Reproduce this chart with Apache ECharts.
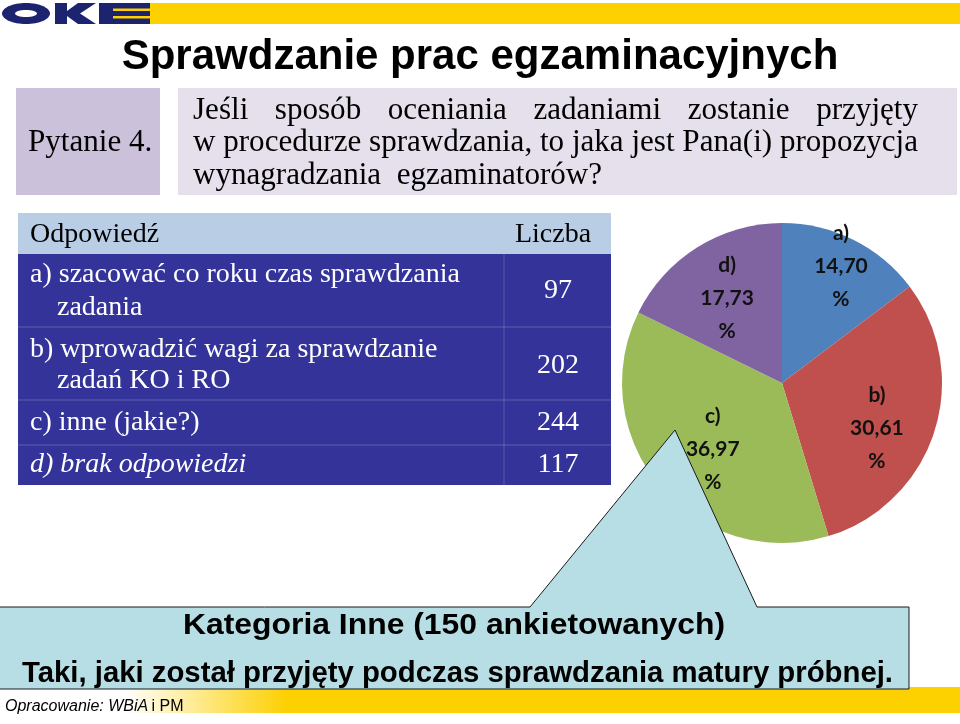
<!DOCTYPE html>
<html><head><meta charset="utf-8">
<script src="https://cdn.jsdelivr.net/npm/echarts@6/dist/echarts.min.js"></script>
<style>html,body{margin:0;padding:0;background:#fff}#c{width:960px;height:724px}</style>
</head><body><div id="c"></div>
<script>
// ---- data ----
const categories = ['a)', 'b)', 'c)', 'd)'];
const counts = [97, 202, 244, 117];
const answerLines = [
  ['a) szacować co roku czas sprawdzania', 'zadania'],
  ['b) wprowadzić wagi za sprawdzanie', 'zadań KO i RO'],
  ['c) inne (jakie?)'],
  ['d) brak odpowiedzi']
];
const headerLabels = ['Odpowiedź', 'Liczba'];
const titleText = 'Sprawdzanie prac egzaminacyjnych';
const questionLabel = 'Pytanie 4.';
const questionLines = ['Jeśli sposób oceniania zadaniami zostanie przyjęty', 'w procedurze sprawdzania, to jaka jest Pana(i) propozycja', 'wynagradzania  egzaminatorów?'];
const calloutTitle = 'Kategoria Inne (150 ankietowanych)';
const calloutText = 'Taki, jaki został przyjęty podczas sprawdzania matury próbnej.';

// ---- styles / layout ----
const sliceColors = ['#4f81bd', '#c0504d', '#9bbb59', '#8064a2'];
const labelShift = [[22, -42], [16, 20], [-6, 12], [-11, -14]];
const rowBounds = [254, 327, 400, 445, 485];
const rowTextY = [[275, 308], [350, 381], [423], [465]];
const rowValueY = [291, 366, 423, 465];
const qFont = '31px "Liberation Serif"';
const tFont = '28px "Liberation Serif"';
const cFont = 'bold 30px "Liberation Sans"';

const cv = document.createElement('canvas').getContext('2d');
cv.font = qFont;
const qScale = 725 / cv.measureText(questionLines[1]).width;
cv.font = cFont;
const cScale1 = 542 / cv.measureText(calloutTitle).width;
const cScale2 = 871 / cv.measureText(calloutText).width;

function justify(line, x0, x1, y, font, fill, sx) {
  const words = line.split(' ');
  cv.font = font;
  const w = words.map(s => cv.measureText(s).width * sx);
  const tot = w.reduce((a, b) => a + b, 0);
  const gap = (x1 - x0 - tot) / (words.length - 1);
  let x = x0; const out = [];
  words.forEach((s, i) => {
    out.push({type: 'text', x: x, y: y, scaleX: sx, z: 3, style: {text: s, font: font, fill: fill, verticalAlign: 'middle'}});
    x += w[i] + gap;
  });
  return out;
}

const total = counts.reduce((a, b) => a + b, 0);
const pieData = categories.map((c, i) => ({name: c, value: counts[i]}));

const g = [];
// logo
g.push({type: 'rect', z: 1, shape: {x: 150, y: 3, width: 810, height: 21}, style: {fill: '#fdd000'}});
g.push({type: 'ellipse', z: 1, shape: {cx: 26, cy: 13.5, rx: 24, ry: 10.5}, style: {fill: '#1c2470'}});
g.push({type: 'ellipse', z: 2, shape: {cx: 26, cy: 13.5, rx: 11, ry: 3.5}, style: {fill: '#fff'}});
g.push({type: 'polygon', z: 1, shape: {points: [[55, 3], [67, 3], [67, 11], [78, 3], [96, 3], [80, 13.5], [96, 24], [78, 24], [67, 16], [67, 24], [55, 24]]}, style: {fill: '#1c2470'}});
g.push({type: 'rect', z: 1, shape: {x: 99, y: 3, width: 51, height: 21}, style: {fill: '#1c2470'}});
g.push({type: 'rect', z: 2, shape: {x: 113, y: 8.5, width: 37, height: 2.5}, style: {fill: '#fdd000'}});
g.push({type: 'rect', z: 2, shape: {x: 113, y: 16, width: 37, height: 2.5}, style: {fill: '#fdd000'}});
// title
g.push({type: 'text', x: 480, y: 57, z: 3, style: {text: titleText, font: 'bold 42px "Liberation Sans"', fill: '#000', align: 'center', verticalAlign: 'middle', textShadowColor: '#9a9a9a', textShadowOffsetX: 2, textShadowOffsetY: 2, textShadowBlur: 0}});
// question boxes
g.push({type: 'rect', z: 1, shape: {x: 16, y: 88, width: 144, height: 107}, style: {fill: '#ccc1da'}});
g.push({type: 'rect', z: 1, shape: {x: 178, y: 88, width: 779, height: 107}, style: {fill: '#e5e0ec'}});
g.push({type: 'text', x: 28, y: 143, scaleX: qScale, z: 3, style: {text: questionLabel, font: qFont, fill: '#000', verticalAlign: 'middle'}});
g.push(...justify(questionLines[0], 193, 918, 111, qFont, '#000', qScale));
g.push(...justify(questionLines[1], 193, 918, 143, qFont, '#000', qScale));
g.push({type: 'text', x: 193, y: 176, scaleX: qScale, z: 3, style: {text: questionLines[2], font: qFont, fill: '#000', verticalAlign: 'middle'}});
// table
g.push({type: 'rect', z: 1, shape: {x: 18, y: 213, width: 593, height: 41}, style: {fill: '#b9cde5'}});
g.push({type: 'rect', z: 1, shape: {x: 18, y: 254, width: 593, height: 231}, style: {fill: '#333399'}});
g.push({type: 'text', x: 30, y: 235, z: 3, style: {text: headerLabels[0], font: tFont, fill: '#000', verticalAlign: 'middle'}});
g.push({type: 'text', x: 553, y: 235, z: 3, style: {text: headerLabels[1], font: tFont, fill: '#000', align: 'center', verticalAlign: 'middle'}});
for (let i = 1; i < rowBounds.length - 1; i++) {
  g.push({type: 'line', z: 2, shape: {x1: 18, y1: rowBounds[i], x2: 611, y2: rowBounds[i]}, style: {stroke: 'rgba(255,255,255,0.22)', lineWidth: 1}});
}
g.push({type: 'line', z: 2, shape: {x1: 504, y1: 254, x2: 504, y2: 485}, style: {stroke: 'rgba(255,255,255,0.18)', lineWidth: 1}});
answerLines.forEach((lines, i) => {
  const italic = i === 3 ? 'italic ' : '';
  lines.forEach((ln, j) => {
    g.push({type: 'text', x: j === 0 ? 30 : 57, y: rowTextY[i][j], z: 3, style: {text: ln, font: italic + tFont, fill: '#fff', verticalAlign: 'middle'}});
  });
  g.push({type: 'text', x: 558, y: rowValueY[i], z: 3, style: {text: String(counts[i]), font: tFont, fill: '#fff', align: 'center', verticalAlign: 'middle'}});
});
// callout
g.push({type: 'polygon', z: 5, shape: {points: [[-2, 607], [530, 607], [675, 430], [757, 607], [909, 607], [909, 689], [-2, 689]]}, style: {fill: '#b7dee4', stroke: '#1a1a1a', lineWidth: 1}});
g.push({type: 'text', x: 183, y: 626, scaleX: cScale1, z: 6, style: {text: calloutTitle, font: cFont, fill: '#000', verticalAlign: 'middle'}});
g.push({type: 'text', x: 22, y: 674, scaleX: cScale2, z: 6, style: {text: calloutText, font: cFont, fill: '#000', verticalAlign: 'middle'}});
// footer bar
g.push({type: 'rect', z: 1, shape: {x: 0, y: 687, width: 960, height: 26}, style: {fill: new echarts.graphic.LinearGradient(0, 0, 1, 0, [{offset: 0, color: '#ffffff'}, {offset: 0.13, color: '#ffffff'}, {offset: 0.3, color: '#fdd000'}, {offset: 1, color: '#fdd000'}])}});
g.push({type: 'text', x: 5, y: 707, z: 6, style: {text: '{i|Opracowanie: WBiA} {n|i PM}', rich: {i: {font: 'italic 16px "Liberation Sans"', fill: '#000'}, n: {font: '16px "Liberation Sans"', fill: '#000'}}, verticalAlign: 'middle'}});

function fmtLabel(p) {
  return p.name + '\n' + (p.value / total * 100).toFixed(2).replace('.', ',') + '\n%';
}

const chart = echarts.init(document.getElementById('c'), null, {renderer: 'canvas'});
chart.setOption({
  animation: false,
  backgroundColor: '#fff',
  graphic: {elements: g},
  series: [
    {
      type: 'pie', z: 2, center: [782, 383], radius: 160, startAngle: 90, clockwise: true,
      silent: true, label: {show: false}, labelLine: {show: false},
      itemStyle: {borderWidth: 0, color: p => sliceColors[p.dataIndex]},
      data: pieData
    },
    {
      type: 'pie', z: 10, center: [782, 383], radius: 160, startAngle: 90, clockwise: true,
      silent: true, labelLine: {show: false},
      itemStyle: {color: 'rgba(0,0,0,0)', borderWidth: 0},
      label: {show: true, position: 'inside', formatter: fmtLabel, fontFamily: 'Lato', fontWeight: 'bold', fontSize: 21, lineHeight: 33, color: '#111', align: 'center'},
      labelLayout: p => ({dx: labelShift[p.dataIndex][0], dy: labelShift[p.dataIndex][1]}),
      data: pieData
    }
  ]
});
</script>
</body></html>
